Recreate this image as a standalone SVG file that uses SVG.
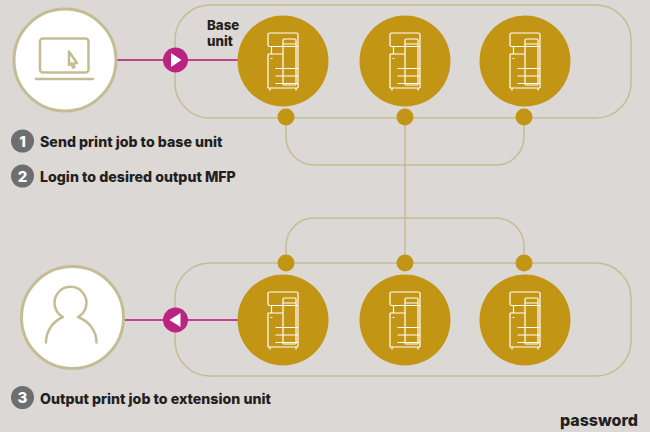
<svg xmlns="http://www.w3.org/2000/svg" width="650" height="432" viewBox="0 0 650 432">
<style>
.ln{fill:none;stroke:#c4bd93;stroke-width:1.5}
.ic{fill:none;stroke:#c4bd93;stroke-width:2.5;stroke-linecap:round;stroke-linejoin:round}
.pk{stroke:#c3408f;stroke-width:2}
.gold{fill:#c39514}
.pr{fill:none;stroke:#fff;stroke-width:1.2;stroke-linejoin:round}
.wh{fill:#fff;stroke:#c4bd93;stroke-width:3}
.mag{fill:#bb2380}
.t{font-family:"Inter","Liberation Sans",sans-serif;font-weight:800;font-size:14.2px;fill:#231f20}
.n{font-family:"Inter","Liberation Sans",sans-serif;font-weight:800;font-size:15px;fill:#fff;text-anchor:middle}
.b{fill:#6d6e71}
</style>
<defs>
<g id="printer" class="pr">
<rect x="-15" y="-28" width="30" height="13.500" rx="1.500"/>
<path d="M-11.500-14.500v7.500M15-15v42M-15-7h15M-15-7v34h30"/>
<rect x="0" y="-22" width="13" height="46" rx="1"/>
<path d="M0-17h13M-7.500 7.500h22.500M-7.500 15h22.500M-7.500 22.500h22.500M-13 27v2.500M13 27v2.500M-12.500-2.500h2"/>
</g>
</defs>
<rect width="650" height="432" fill="#dbd8d5"/>
<g id="connectors">
<rect class="ln" x="175" y="5" width="456" height="113" rx="35"/>
<rect class="ln" x="175" y="263" width="456" height="113" rx="35"/>
<path class="ln" d="M286 117v20a28 28 0 0 0 28 28h182a28 28 0 0 0 28-28v-20"/>
<path class="ln" d="M405 117v146"/>
<path class="ln" d="M286 263v-17a28 28 0 0 1 28-28h182a28 28 0 0 1 28 28v17"/>
<path class="pk" d="M116 60H240"/>
<path class="pk" d="M124 320H240"/>
</g>
<g id="laptop">
<circle class="wh" cx="65" cy="60" r="51"/>
<rect class="ic" x="40" y="38.500" width="48.500" height="34" rx="3"/>
<path class="ic" d="M36 79H93"/>
<path class="ic" d="M69 51.500l8 11.500-3.500.5 1 3.500-1.500.5-1.500-4-2.500 1.500z"/>
</g>
<g id="user">
<circle class="wh" cx="72.500" cy="317.500" r="51"/>
<path class="ic" d="M46 342.500c0-12 7-21 17-25.500A16 16 0 1 1 78 317c11 4.500 18.500 13.500 18.500 25.500"/>
</g>
<g id="base-1"><circle class="gold" cx="283" cy="61" r="45.500"/><use href="#printer" x="283" y="61"/></g>
<g id="base-2"><circle class="gold" cx="405" cy="61" r="45.500"/><use href="#printer" x="405" y="61"/></g>
<g id="base-3"><circle class="gold" cx="525" cy="61" r="45.500"/><use href="#printer" x="525" y="61"/></g>
<g id="ext-1"><circle class="gold" cx="283" cy="320" r="45.500"/><use href="#printer" x="283" y="320"/></g>
<g id="ext-2"><circle class="gold" cx="405" cy="320" r="45.500"/><use href="#printer" x="405" y="320"/></g>
<g id="ext-3"><circle class="gold" cx="525" cy="320" r="45.500"/><use href="#printer" x="525" y="320"/></g>
<g id="dots" class="gold">
<circle cx="286" cy="117" r="8.500"/><circle cx="405" cy="117" r="8.500"/><circle cx="524" cy="117" r="8.500"/>
<circle cx="286" cy="263" r="8.500"/><circle cx="405" cy="263" r="8.500"/><circle cx="524" cy="263" r="8.500"/>
</g>
<g id="arrow-send"><circle class="mag" cx="175.500" cy="60" r="12.500"/><path fill="#fff" d="M171 53l10.500 7-10.500 7z"/></g>
<g id="arrow-output"><circle class="mag" cx="175.500" cy="320" r="12.500"/><path fill="#fff" d="M180.500 313l-11 7 11 7z"/></g>
<g id="label-base"><text class="t" x="207" y="30" style="font-size:13.300px">Base</text><text class="t" x="207" y="46" style="font-size:13.300px">unit</text></g>
<g id="step-1"><circle class="b" cx="22.500" cy="141" r="11.500"/><text class="n" x="22.500" y="146.500">1</text><text class="t" x="40" y="147">Send print job to base unit</text></g>
<g id="step-2"><circle class="b" cx="22.500" cy="176" r="11.500"/><text class="n" x="22.500" y="181.500">2</text><text class="t" x="40" y="182">Login to desired output MFP</text></g>
<g id="step-3"><circle class="b" cx="22.500" cy="397.500" r="11.500"/><text class="n" x="22.500" y="403">3</text><text class="t" x="40" y="404">Output print job to extension unit</text></g>
<text id="password" x="638" y="426" text-anchor="end" class="t" style="font-size:16px">password</text>
</svg>
